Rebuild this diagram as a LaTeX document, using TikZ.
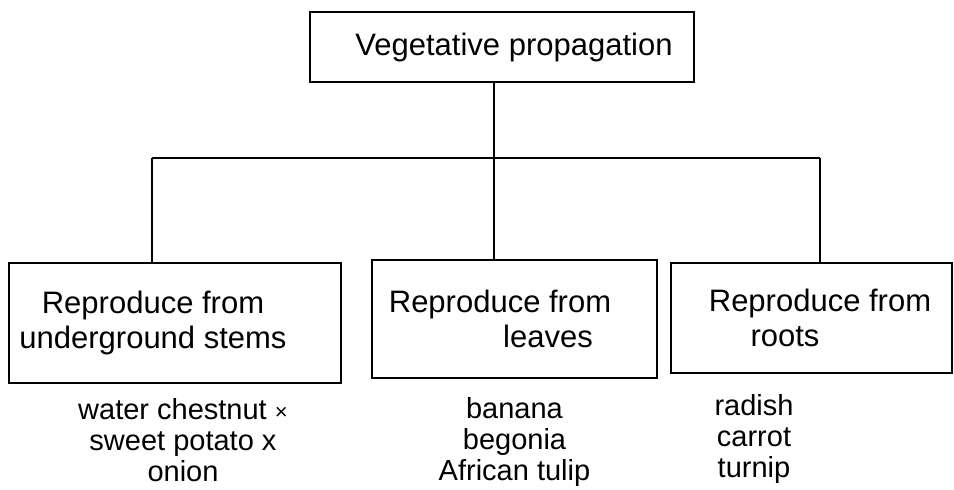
\documentclass[tikz,border=0pt]{standalone}
\usepackage{fontspec}
\setmainfont{Liberation Sans}
\usetikzlibrary{positioning}
\tikzset{
    box/.style = {
        draw,
        line width=1.1pt,
        inner sep=0pt,
        align=center,
        font=\fontsize{15.5}{17.5}\selectfont,
        },
    items/.style = {
        align=center,
        inner sep=0pt,
        font=\fontsize{14.5}{15.5}\selectfont,
        },
    link/.style = {
        line width=0.8pt,
        },
}

\begin{document}
\begin{tikzpicture}[x=0.5pt, y=-0.5pt]
    \useasboundingbox (0,0) rectangle (954,490);

    \node[box, minimum width=192pt, minimum height=35pt] (vp) at (502,47)
        {\hspace*{12pt}Vegetative propagation};

    \node[box, minimum width=166pt, minimum height=60pt] (stems) at (175,323)
        {Reproduce from\hspace*{22pt}\\underground stems\hspace*{22pt}};
    \node[box, minimum width=142.5pt, minimum height=59pt] (leaves) at (514.5,319)
        {Reproduce from\hspace*{14.5pt}\\\hspace*{33.5pt}leaves};
    \node[box, minimum width=140.5pt, minimum height=55pt] (roots) at (811.5,318)
        {\hspace*{8.5pt}Reproduce from\\roots\hspace*{26.5pt}};

    \coordinate (bar left) at (152,158);
    \coordinate (bar mid) at (494,158);
    \coordinate (bar right) at (820,158);

    \draw[link] (bar left) -- (bar right);
    \draw[link] (vp.south -| bar mid) -- (leaves.north -| bar mid);
    \draw[link] (bar left) -- (stems.north -| bar left);
    \draw[link] (bar right) -- (roots.north -| bar right);

    \node[items, below=7pt of stems, xshift=4pt] (stems list)
        {water chestnut {\fontsize{11}{11}\selectfont ×}\\sweet potato x\\onion};
    \node[items, below=9pt of leaves] (leaves list)
        {banana\\begonia\\African tulip};
    \node[items, below=10pt of roots, xshift=-28.75pt] (roots list)
        {radish\\carrot\\turnip};
\end{tikzpicture}
\end{document}
